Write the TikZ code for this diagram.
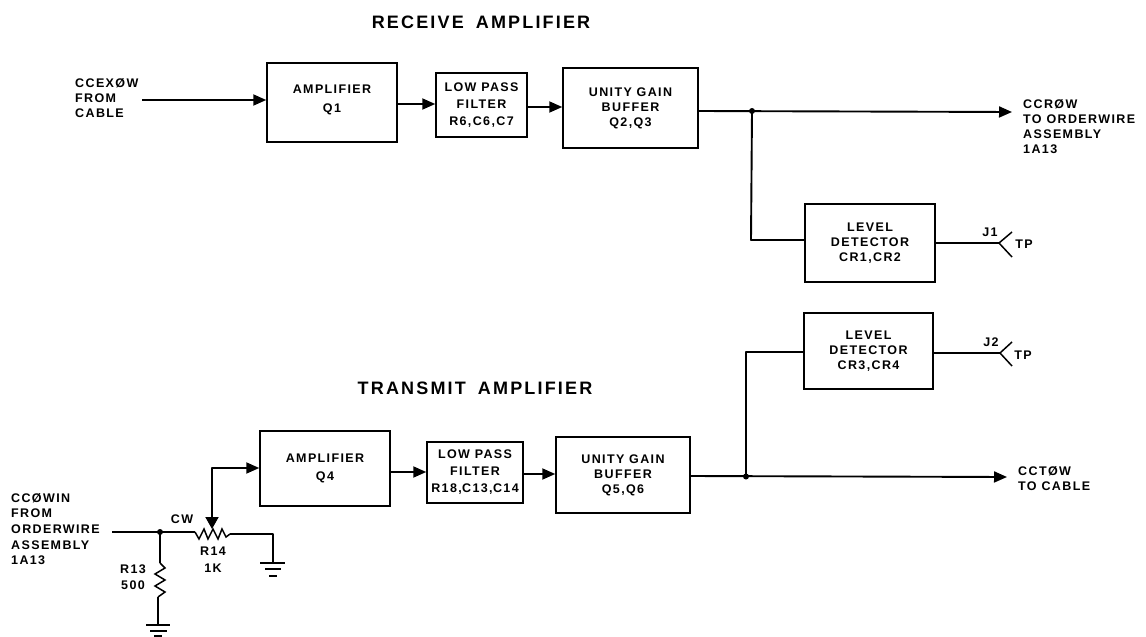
\documentclass[tikz,border=0pt]{standalone}
\usepackage{fontspec}
\setmainfont[LetterSpace=11]{Liberation Sans}
\newfontfamily\titlefont[LetterSpace=12]{Liberation Sans}
\usetikzlibrary{arrows.meta}
\newcommand{\lbl}{\fontsize{12.5}{15}\selectfont\bfseries}
\newcommand{\ttlf}{\titlefont\fontsize{18}{20}\selectfont\bfseries}
\tikzset{
  blockbox/.style={draw,line width=1.5pt,inner sep=0pt,align=center,font=\lbl},
  lbl/.style={inner sep=0pt,align=left,font=\lbl},
  lblc/.style={inner sep=0pt,align=center,font=\lbl},
  ttl/.style={inner sep=0pt,font=\ttlf},
  wire/.style={line width=1.9pt,line join=round},
  thinwire/.style={line width=1.5pt,line join=miter},
  flow/.style={wire,-{Triangle[length=13pt,width=11pt]}},
  dotn/.style={circle,fill,inner sep=0pt,minimum size=6pt},
}
\begin{document}
\begin{tikzpicture}[x=1pt,y=-1pt]
\useasboundingbox (0,0) rectangle (1146,637);
\fill[white] (0,0) rectangle (1146,637);
% titles
\node[ttl] (t1) at (481,22) {RECEIVE \hspace{5pt}AMPLIFIER};
\node[ttl] (t2) at (475,388) {TRANSMIT \hspace{5pt}AMPLIFIER};
% receive blocks
\node[blockbox,minimum width=130pt,minimum height=79pt] (q1) at (332,102.5) {AMPLIFIER\\[4pt]Q1\\[-7pt]};
\node[blockbox,minimum width=91pt,minimum height=64pt] (f1) at (481.5,105) {LOW PASS\\[2pt]FILTER\\[2pt]R6,C6,C7};
\node[blockbox,minimum width=135pt,minimum height=80pt] (b1) at (630.5,108) {UNITY GAIN\\BUFFER\\Q2,Q3};
\node[blockbox,minimum width=130pt,minimum height=78pt] (d1) at (870,243) {LEVEL\\DETECTOR\\CR1,CR2};
% transmit blocks
\node[blockbox,minimum width=130pt,minimum height=75pt] (q4) at (325,468.5) {AMPLIFIER\\[3pt]Q4};
\node[blockbox,minimum width=96pt,minimum height=61pt] (f2) at (475,472.5) {LOW PASS\\[2pt]FILTER\\[2pt]R18, \kern-4.5pt C13, \kern-4.5pt C14};
\node[blockbox,minimum width=134pt,minimum height=76pt] (b2) at (623,475) {UNITY GAIN\\BUFFER\\Q5,Q6};
\node[blockbox,minimum width=129pt,minimum height=76pt] (d2) at (868.5,351) {LEVEL\\DETECTOR\\CR3,CR4};
% labels
\node[lbl,anchor=north west] (l1) at (75,78) {CCEXØW\\FROM\\CABLE};
\node[lbl,anchor=north west] (l3) at (1023,99) {CCRØW\\TO ORDERWIRE\\ASSEMBLY\\1A13};
\node[lbl,anchor=north west,text depth=0pt] (l4) at (11,493) {CCØWIN\\[0.7pt]FROM\\[0.7pt]ORDERWIRE\\[0.7pt]ASSEMBLY\\[0.7pt]1A13};
\node[lbl,anchor=north west] (l5) at (1018,466) {CCTØW\\TO CABLE};
\node[lblc] (cw) at (182,519) {CW};
\node[lblc] (r14) at (213,559.5) {R14\\[2pt]1K};
\node[lblc] (r13) at (133,577) {R13\\[1pt]500};
\node[lblc] (j1) at (990,232) {J1};
\node[lblc] (tp1) at (1024,244) {TP};
\node[lblc] (j2) at (991,342) {J2};
\node[lblc] (tp2) at (1023,355) {TP};
% receive connectors
\coordinate (a1) at (142,100);
\draw[flow] (a1) -- (a1 -| q1.west);
\coordinate (a2) at (q1.east |- 0,104);
\draw[flow] (a2) -- (a2 -| f1.west);
\coordinate (a3) at (f1.east |- 0,107);
\draw[flow] (a3) -- (a3 -| b1.west);
\coordinate (a4) at (b1.east |- 0,111);
\coordinate (e1) at (1012,112);
\draw[flow] (a4) -- (e1);
\node[dotn] (j3) at (752,111) {};
\coordinate (a5) at (751,240);
\draw[wire] (j3.center) -- (a5) -- (a5 -| d1.west);
\coordinate (v1) at (999,243);
\draw[wire] (d1.east |- v1) -- (v1);
\draw[thinwire] (1012,232) -- (v1) -- (1012,257);
% transmit connectors
\coordinate (c1) at (q4.east |- 0,472);
\draw[flow] (c1) -- (c1 -| f2.west);
\coordinate (c2) at (f2.east |- 0,474);
\draw[flow] (c2) -- (c2 -| b2.west);
\coordinate (c3) at (b2.east |- 0,476);
\coordinate (e2) at (1007,477);
\draw[flow] (c3) -- (e2);
\node[dotn] (j4) at (746,476.5) {};
\coordinate (c4) at (746,352);
\draw[wire] (j4.center) -- (c4) -- (c4 -| d2.west);
\coordinate (v2) at (1000,353);
\draw[wire] (d2.east |- v2) -- (v2);
\draw[thinwire] (1012,342) -- (v2) -- (1012,366);
% input network
\coordinate (i0) at (112,532);
\node[dotn] (j5) at (160,532) {};
\coordinate (r1) at (195,532);
\draw[wire] (i0) -- (j5.center) -- (r1);
\draw[thinwire] (r1) -- (199,539) -- (204,529) -- (208,539) -- (213,529) -- (218,539) -- (222,529) -- (226,537) -- (230,534);
\coordinate (r2) at (230,534);
\coordinate (g1) at (273,563);
\draw[wire] (r2) -- (g1 |- r2) -- (g1);
\draw[wire] (260,563) -- (285,563);
\draw[wire] (265,569) -- (281,569);
\draw[wire] (269,576) -- (277,576);
% wiper
\coordinate (w1) at (212,468);
\draw[wire,{Triangle[length=12pt,width=13pt]}-{Triangle[length=13pt,width=11pt]}] (212,529) -- (w1) -- (w1 -| q4.west);
% R13
\coordinate (g2) at (158,625);
\draw[wire] (j5.center) -- (160,563);
\draw[thinwire] (160,563) -- (165,568) -- (155,574) -- (165,580) -- (155,586) -- (165,592) -- (158,597);
\draw[wire] (158,597) -- (g2);
\draw[wire] (146,625) -- (170,625);
\draw[wire] (150,631) -- (167,631);
\draw[wire] (154,636) -- (162,636);
\end{tikzpicture}
\end{document}
